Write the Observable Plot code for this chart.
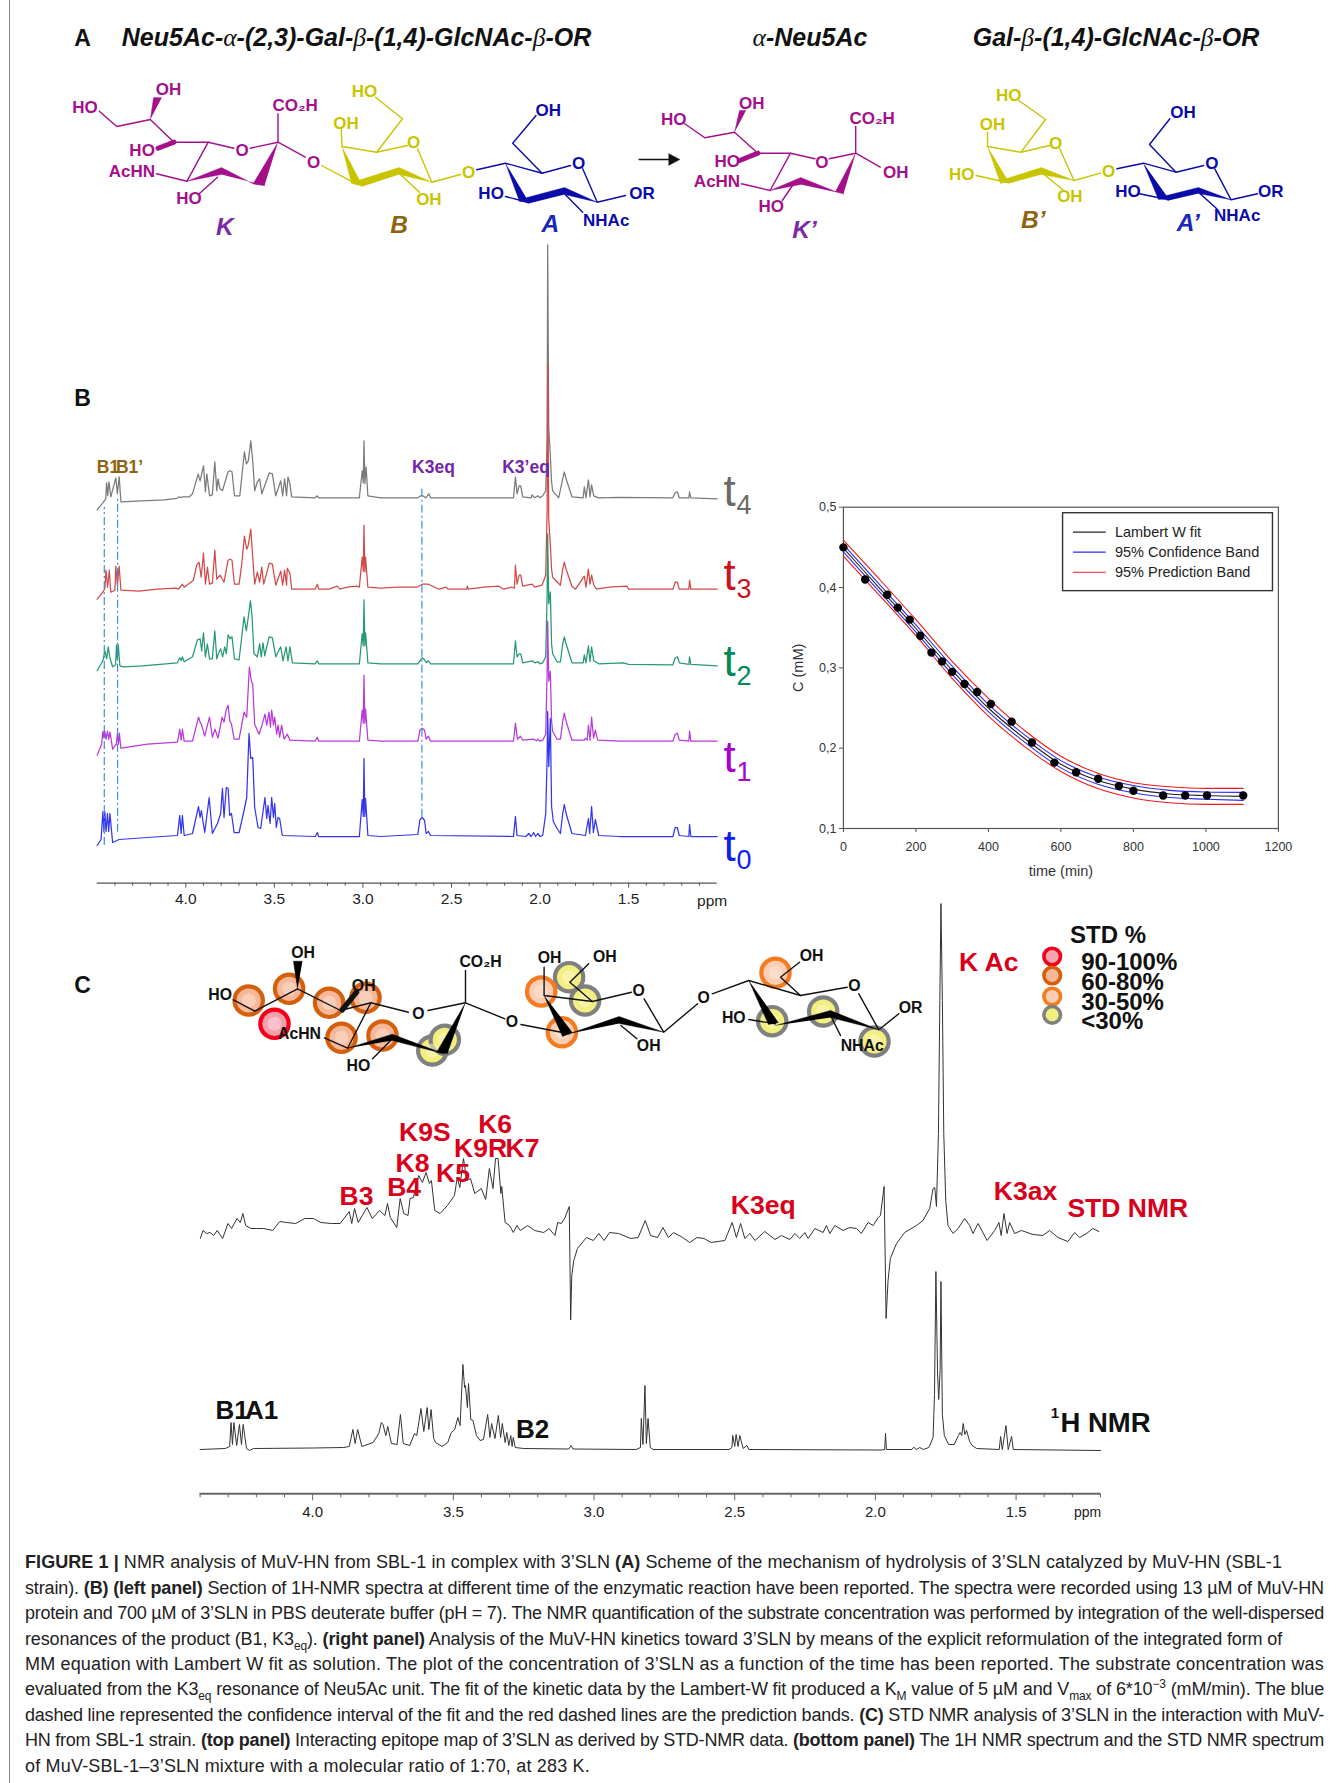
<!DOCTYPE html>
<html><head><meta charset="utf-8">
<script src="https://cdn.jsdelivr.net/npm/d3@7"></script>
<script src="https://cdn.jsdelivr.net/npm/@observablehq/plot@0.6"></script>
<style>
html,body{margin:0;padding:0;background:#fff}
#page{position:relative;width:1342px;height:1783px;overflow:hidden;font-family:"Liberation Sans",Arial,sans-serif;color:#1a1a1a}
#page>div.p{position:absolute}
#page svg{overflow:visible;background:transparent;display:block}
.ttl{position:absolute;white-space:nowrap;font:italic bold 25px "Liberation Sans",sans-serif;color:#111;transform:translateX(-50%);line-height:28px}
.ttl span{font:italic normal 25.5px "Liberation Serif",serif}
.cap{position:absolute;left:25px;font-size:18px;line-height:25.4px;height:25.4px;white-space:nowrap;color:#222}
.cap sub,.cap sup{font-size:12px;line-height:0}
#edge{position:absolute;left:9px;top:0;width:1px;height:1783px;background:#8a8a8a}
</style></head><body><div id="page"><div id="edge"></div></div>
<script>
// ---------- Panel B: 1H spectra over reaction time, [ppm, intensity] ----------
const t4Trace=[[4.5,-12],[4.468,-5],[4.452,-1],[4.447,15],[4.441,2],[4.434,16],[4.423,1],[4.395,20],[4.386,4],[4.376,21],[4.366,-4],[4.25,-3],[4.12,-2],[4.05,-.5],[4.037,1],[4.028,0],[4.019,1],[3.98,1],[3.962,4],[3.943,16],[3.93,24],[3.919,17],[3.9,32],[3.889,6],[3.881,24],[3.866,2],[3.85,3],[3.836,36],[3.825,7],[3.818,19],[3.807,9],[3.793,7],[3.761,26],[3.75,27],[3.739,26],[3.725,2],[3.695,2],[3.669,46],[3.658,34],[3.647,37],[3.633,57],[3.622,37],[3.611,7],[3.596,16],[3.583,19],[3.571,4],[3.528,25],[3.511,24],[3.492,2],[3.464,17],[3.453,2],[3.442,19],[3.431,2],[3.423,21],[3.412,14],[3.402,1],[3.27,0],[3.257,2],[3.25,0],[3.02,0],[3.004,27],[2.998,15],[2.994,57],[2.989,14],[2.982,31],[2.972,2],[2.9,0],[2.69,0],[2.674,2],[2.662,2],[2.645,0],[2.628,4],[2.618,0],[2.15,0],[2.139,21],[2.13,4],[2.118,12],[2.109,12],[2.098,1],[2.05,0],[2.045,3],[2.03,0],[2.013,2],[2.0,0],[1.985,2],[1.968,7],[1.96,60],[1.957,253],[1.951,70],[1.942,42],[1.935,16],[1.929,7],[1.895,0],[1.872,19],[1.863,26],[1.853,19],[1.82,1],[1.757,0],[1.75,11],[1.741,0],[1.727,18],[1.718,1],[1.709,13],[1.697,2],[1.669,0],[1.55,.5],[1.25,0],[1.237,5],[1.225,6],[1.214,0],[1.16,0],[1.156,6],[1.149,0],[1.0,-1]];
const t3Trace=[[4.5,-10],[4.468,-3],[4.456,1],[4.451,19],[4.441,2],[4.432,19],[4.423,-3],[4.4,-1],[4.395,23],[4.386,4],[4.376,23],[4.366,-1],[4.264,-2],[4.16,0],[4.056,1],[4.04,0],[4.019,5],[4.009,2],[3.957,9],[3.938,24],[3.925,27],[3.913,12],[3.9,36],[3.889,5],[3.878,22],[3.866,5],[3.85,6],[3.836,39],[3.825,10],[3.806,14],[3.784,7],[3.761,29],[3.75,30],[3.739,29],[3.725,5],[3.699,5],[3.684,25],[3.669,53],[3.656,40],[3.647,44],[3.633,60],[3.622,32],[3.611,5],[3.596,17],[3.583,7],[3.571,22],[3.56,5],[3.528,26],[3.511,25],[3.492,4],[3.464,18],[3.453,4],[3.442,19],[3.431,4],[3.427,21],[3.412,16],[3.402,0],[3.27,0],[3.257,5],[3.25,0],[3.19,0],[3.145,3],[3.13,0],[3.088,2],[3.032,3],[3.02,2],[3.004,32],[2.998,18],[2.994,64],[2.989,17],[2.985,32],[2.972,2],[2.9,1],[2.806,2],[2.693,2],[2.665,5],[2.63,5],[2.57,0],[2.53,2],[2.52,0],[2.415,0],[2.41,3],[2.405,0],[2.318,2],[2.233,3],[2.205,0],[2.158,2],[2.145,1],[2.139,24],[2.13,5],[2.118,14],[2.109,14],[2.098,3],[2.045,5],[2.03,2],[1.989,4],[1.968,14],[1.96,80],[1.957,225],[1.951,70],[1.942,45],[1.935,20],[1.929,12],[1.885,4],[1.872,20],[1.863,27],[1.853,20],[1.82,3],[1.8,0],[1.75,13],[1.741,2],[1.727,20],[1.718,5],[1.709,14],[1.697,4],[1.68,0],[1.613,2],[1.509,3],[1.5,0],[1.25,0],[1.237,7],[1.225,7],[1.214,0],[1.16,0],[1.156,9],[1.149,0],[1.0,0]];
const t2Trace=[[4.5,-7],[4.468,3],[4.457,13],[4.446,5],[4.438,17],[4.427,5],[4.413,-3],[4.396,-1],[4.391,19],[4.386,5],[4.381,19],[4.372,-2],[4.348,-3],[4.245,-2],[4.047,1],[4.034,6],[4.026,3],[4.019,7],[4.009,2],[3.962,7],[3.934,24],[3.919,25],[3.91,13],[3.9,31],[3.889,7],[3.878,20],[3.866,5],[3.85,5],[3.836,33],[3.825,5],[3.816,10],[3.803,15],[3.792,7],[3.78,17],[3.771,10],[3.761,29],[3.75,25],[3.739,27],[3.725,5],[3.699,4],[3.671,47],[3.658,33],[3.647,47],[3.635,63],[3.626,48],[3.615,10],[3.596,7],[3.583,20],[3.574,7],[3.564,21],[3.554,8],[3.53,27],[3.511,26],[3.492,7],[3.464,17],[3.451,3],[3.434,17],[3.423,3],[3.412,17],[3.398,1],[3.27,0],[3.257,3],[3.25,0],[3.02,0],[3.004,30],[2.998,18],[2.994,64],[2.989,18],[2.985,31],[2.972,1],[2.9,0],[2.69,0],[2.678,3],[2.665,6],[2.652,4],[2.643,1],[2.63,3],[2.618,0],[2.15,0],[2.139,23],[2.13,7],[2.118,10],[2.109,10],[2.098,1],[2.045,3],[2.03,1],[2.013,2],[2.0,0],[1.985,1],[1.968,7],[1.96,70],[1.957,130],[1.951,60],[1.942,72],[1.935,20],[1.929,10],[1.904,2],[1.885,2],[1.872,20],[1.863,27],[1.853,20],[1.82,1],[1.757,1],[1.75,9],[1.741,1],[1.727,18],[1.718,2],[1.709,17],[1.697,3],[1.669,0],[1.53,1],[1.5,-.5],[1.25,-1],[1.237,6],[1.225,7],[1.214,1],[1.16,-.5],[1.156,7],[1.149,-.5],[1.0,-2]];
const t1Trace=[[4.5,-14],[4.475,-3],[4.468,10],[4.462,3],[4.457,10],[4.45,2],[4.442,10],[4.435,2],[4.428,9],[4.413,-8],[4.392,-3],[4.386,8],[4.38,-3],[4.375,8],[4.366,-7],[4.216,-3],[4.047,-1],[4.034,12],[4.026,1],[4.019,12],[4.009,0],[3.962,0],[3.928,24],[3.919,19],[3.912,17],[3.893,5],[3.866,24],[3.85,4],[3.835,12],[3.818,3],[3.795,24],[3.784,19],[3.771,32],[3.761,36],[3.752,21],[3.742,17],[3.727,2],[3.699,2],[3.671,29],[3.656,24],[3.641,74],[3.631,61],[3.622,57],[3.611,17],[3.586,7],[3.568,17],[3.553,27],[3.543,16],[3.53,29],[3.522,14],[3.515,31],[3.505,16],[3.498,24],[3.487,7],[3.479,16],[3.47,4],[3.459,16],[3.445,2],[3.427,7],[3.412,1],[3.27,0],[3.257,4],[3.25,0],[3.02,0],[3.004,31],[2.998,18],[2.994,66],[2.989,18],[2.985,32],[2.972,1],[2.9,0],[2.69,0],[2.678,11],[2.665,13],[2.652,11],[2.643,2],[2.63,5],[2.618,0],[2.15,0],[2.139,18],[2.128,2],[2.111,5],[2.098,1],[2.036,2],[2.02,.5],[2.013,2],[2.0,0],[1.985,1],[1.968,7],[1.96,70],[1.957,120],[1.951,60],[1.942,70],[1.935,20],[1.929,10],[1.904,2],[1.885,2],[1.872,20],[1.863,28],[1.853,20],[1.82,1],[1.75,1],[1.744,3],[1.734,1],[1.727,16],[1.718,1],[1.709,24],[1.698,3],[1.688,11],[1.675,1],[1.55,0],[1.25,0],[1.237,7],[1.225,8],[1.214,1],[1.16,0],[1.156,10],[1.149,0],[1.0,0]];
const t0Trace=[[4.5,-9],[4.478,-3],[4.468,25],[4.462,5],[4.457,25],[4.45,5],[4.442,23],[4.435,5],[4.428,23],[4.413,-6],[4.376,-3],[4.216,-1],[4.047,1],[4.034,21],[4.026,3],[4.019,21],[4.009,1],[3.962,3],[3.928,30],[3.919,19],[3.912,26],[3.893,4],[3.868,39],[3.85,3],[3.821,13],[3.803,23],[3.793,48],[3.784,19],[3.771,49],[3.761,48],[3.752,21],[3.742,23],[3.727,4],[3.699,4],[3.671,26],[3.656,39],[3.643,103],[3.633,78],[3.622,79],[3.611,29],[3.592,9],[3.577,8],[3.567,21],[3.553,39],[3.543,18],[3.536,31],[3.524,13],[3.515,39],[3.505,19],[3.498,33],[3.489,9],[3.479,19],[3.47,18],[3.455,1],[3.27,0],[3.257,4],[3.25,0],[3.02,0],[3.004,37],[2.998,20],[2.994,78],[2.989,20],[2.985,38],[2.972,1],[2.9,0],[2.69,2],[2.678,17],[2.665,19],[2.652,16],[2.643,3],[2.63,5],[2.618,1],[2.15,0],[2.139,20],[2.13,1],[2.08,0],[2.064,3],[2.05,0],[2.036,4],[2.025,0],[2.013,3],[2.0,0],[1.985,1],[1.968,23],[1.96,80],[1.957,125],[1.951,70],[1.942,118],[1.935,30],[1.925,15],[1.904,8],[1.885,3],[1.872,23],[1.863,32],[1.853,23],[1.82,3],[1.744,1],[1.727,18],[1.72,3],[1.709,30],[1.699,4],[1.688,17],[1.669,1],[1.55,0],[1.25,0],[1.237,9],[1.225,9],[1.214,1],[1.16,0],[1.156,12],[1.149,0],[1.0,0]];
const traceNames=["t0","t1","t2","t3","t4"];
const traceOffsets=[46.7,142,219.4,294,385.4];
const traceColors=["#3535f0","#b93ad8","#27996f","#d04a4a","#7a7a7a"];
const tLabelColors=["#0f1ff0","#a800cf","#008a5a","#c8141e","#6a6a6a"];
const markerPpm=[4.46,4.385,2.667];
const markerFrom=[37.7,51,66];
const markerTo=[376,385.7,396];
const ppmMajorB=[4.0,3.5,3.0,2.5,2.0,1.5];
const ppmMinorB=[4.4,4.3,4.2,4.1,3.9,3.8,3.7,3.6,3.4,3.3,3.2,3.1,2.9,2.8,2.7,2.6,2.4,2.3,2.2,2.1,1.9,1.8,1.7,1.6,1.4,1.3,1.2,1.1];

// ---------- Panel B right: substrate concentration vs time ----------
const timePts=[0,60,121,150,183,212,243,272,300,334,369,407,464,520,582,642,703,760,800,882,943,1003,1103];
const concPts=[.45,.41,.391,.375,.36,.34,.319,.308,.295,.28,.27,.255,.233,.207,.182,.17,.162,.153,.147,.141,.141,.141,.141];
const fitTime=[0,100,200,300,400,500,600,700,800,900,1000,1103];
const fitConc=[.449,.399,.349,.297,.25,.212,.18,.16,.149,.143,.141,.14];
const confHi=[.4535,.4035,.3535,.302,.2545,.2165,.1845,.1645,.1535,.1475,.1455,.145];
const confLo=[.4445,.3945,.3445,.292,.2455,.2075,.1755,.1555,.1445,.1385,.1365,.135];
const predHi=[.459,.41,.36,.308,.262,.222,.19,.169,.157,.152,.15,.15];
const predLo=[.439,.39,.34,.287,.24,.202,.171,.15,.138,.132,.13,.13];
const timeTicks=[0,200,400,600,800,1000,1200];
const concTicks=[.1,.2,.3,.4,.5];
const legendNames=["Lambert W fit","95% Confidence Band","95% Prediction Band"];
const legendColors=["#222","#2a2af0","#f01818"];
const legendConc=[.4689,.444,.419];

// ---------- Panel C: STD NMR and 1H NMR spectra, [ppm, intensity] ----------
const stdTrace=[[4.399,-13],[4.39,-5],[4.377,-8],[4.364,-7],[4.352,-10],[4.339,-5],[4.32,-13],[4.301,2],[4.288,-3],[4.269,7],[4.257,3],[4.248,12],[4.238,0],[4.219,-3],[4.2,-3],[4.174,-3],[4.142,-5],[4.117,4],[4.092,3],[4.06,2],[4.028,7],[3.997,7],[3.971,3],[3.933,2],[3.902,2],[3.87,14],[3.861,2],[3.851,17],[3.838,3],[3.807,18],[3.788,7],[3.762,15],[3.743,10],[3.734,22],[3.724,8],[3.701,-2],[3.689,27],[3.676,12],[3.661,10],[3.654,27],[3.642,28],[3.623,50],[3.61,43],[3.597,53],[3.585,42],[3.578,45],[3.566,15],[3.547,12],[3.521,20],[3.496,30],[3.486,48],[3.477,38],[3.464,67],[3.452,45],[3.439,47],[3.424,32],[3.401,37],[3.385,26],[3.372,57],[3.359,37],[3.35,67],[3.341,67],[3.331,32],[3.328,39],[3.316,3],[3.3,0],[3.287,-7],[3.274,0],[3.262,-5],[3.236,0],[3.211,-5],[3.179,-7],[3.16,-3],[3.139,-10],[3.129,3],[3.116,2],[3.103,8],[3.088,19],[3.083,-94.5],[3.079,-50],[3.072,-35],[3.059,-23],[3.027,-12],[3.002,-15],[2.983,-8],[2.964,-15],[2.945,-7],[2.913,-8],[2.869,-13],[2.843,-12],[2.818,5],[2.799,-10],[2.774,-12],[2.755,-2],[2.736,-12],[2.717,-7],[2.685,-12],[2.66,-17],[2.634,-12],[2.609,-13],[2.584,-17],[2.535,-15],[2.509,3],[2.494,-12],[2.479,2],[2.464,-13],[2.446,-8],[2.428,-15],[2.393,-6],[2.357,-14],[2.334,-10],[2.304,-14],[2.286,-8],[2.269,-13],[2.251,-7],[2.239,-13],[2.215,-3],[2.186,-7],[2.174,0],[2.162,-8],[2.144,0],[2.115,-5],[2.091,-2],[2.067,-3],[2.05,-8],[2.026,3],[2.008,0],[1.99,8],[1.982,10],[1.969,39],[1.962,-93],[1.955,-55],[1.947,-33],[1.925,-18],[1.896,-7],[1.854,0],[1.831,5],[1.807,17],[1.795,37],[1.789,38],[1.783,19],[1.776,92],[1.771,225],[1.767,322],[1.762,225],[1.757,92],[1.75,25],[1.742,0],[1.724,-8],[1.706,-3],[1.683,7],[1.665,0],[1.653,-8],[1.635,2],[1.603,-15],[1.576,-5],[1.561,3],[1.553,-10],[1.543,12],[1.532,-8],[1.523,3],[1.505,-8],[1.481,-5],[1.44,-9],[1.405,-10],[1.381,-5],[1.351,-12],[1.316,-16],[1.292,-7],[1.274,-12],[1.245,-7],[1.227,-3],[1.206,-6]];
const protonTrace=[[4.4,0],[4.31,1],[4.295,3],[4.29,27],[4.285,5],[4.28,27],[4.27,4],[4.26,25],[4.253,5],[4.247,25],[4.235,1],[4.225,-1],[4.21,1],[4.0,1.5],[3.89,2],[3.87,3],[3.857,20],[3.849,6],[3.84,20],[3.825,3],[3.785,7],[3.765,16],[3.756,27],[3.75,25],[3.74,14],[3.733,23],[3.72,6],[3.7,5],[3.688,35],[3.678,6],[3.655,4],[3.638,16],[3.63,14],[3.615,41],[3.605,18],[3.593,42],[3.587,20],[3.579,40],[3.57,11],[3.563,7],[3.54,3],[3.52,7],[3.507,17],[3.495,20],[3.484,32],[3.476,24],[3.466,85],[3.46,62],[3.457,64],[3.45,42],[3.446,66],[3.438,30],[3.43,29],[3.418,14],[3.405,9],[3.393,10],[3.378,35],[3.37,12],[3.364,26],[3.352,11],[3.34,34],[3.332,12],[3.326,26],[3.316,7],[3.31,17],[3.303,4],[3.296,14],[3.291,3],[3.287,12],[3.28,2],[3.25,1],[3.09,.5],[3.081,4],[3.075,.5],[2.85,0],[2.835,2],[2.832,31],[2.826,5],[2.819,64],[2.814,6],[2.808,31],[2.8,2],[2.79,0],[2.52,0],[2.51,2],[2.507,14],[2.5,3],[2.495,15],[2.488,3],[2.482,14],[2.47,1],[2.457,4],[2.45,0],[1.98,-.5],[1.967,0],[1.964,16],[1.961,0],[1.87,0],[1.864,2.3],[1.855,0],[1.842,2],[1.83,0],[1.81,2],[1.795,12],[1.79,55],[1.785,178],[1.779,75],[1.775,50],[1.77,80],[1.767,168],[1.762,35],[1.755,14],[1.74,5],[1.72,5],[1.705,14],[1.699,17],[1.693,14],[1.688,26],[1.682,15],[1.676,19],[1.665,8],[1.656,4],[1.64,1],[1.56,0],[1.555,13],[1.549,0],[1.536,24],[1.528,0],[1.516,13],[1.51,0],[1.2,-1]];
const stdOffset=268.3, protonOffset=44.3;
const ppmMajorC=[4.0,3.5,3.0,2.5,2.0,1.5];
const ppmMinorC=[4.4,4.3,4.2,4.1,3.9,3.8,3.7,3.6,3.4,3.3,3.2,3.1,2.9,2.8,2.7,2.6,2.4,2.3,2.2,2.1,1.9,1.8,1.7,1.6,1.4,1.3,1.2];

// ---------- Structures: bonds, wedges, labels ----------
const purple="#a3108a", yellow="#c9c400", navy="#0b0ba8";
const kBonds=[[[98.8,110.7],[116.3,126],[149.8,119],[173.4,141.7],[207.7,141.7],[233.4,147.7]],[[249.7,147.7],[277.5,141.7],[277.5,113.3]],[[277.5,141.7],[304.8,156.7]],[[207.7,141.7],[186.5,180.7]],[[156,173.3],[186.5,180.7]],[[217,176.7],[198.7,193.3]],
 [[684.2,123.3],[704.3,137.3],[734,131.7],[757.3,152.7],[790,152.7],[814.4,158.3]],[[828.7,158.3],[855.2,152.7],[855.2,126]],[[855.2,152.7],[879.7,166.7]],[[790,152.7],[769.6,190]],[[741,183.3],[769.6,190]],[[792,185],[781.8,200]]];
const kWedges=[[[149.8,119],[153,97],[161.2,97.3]],[[277.5,141.7],[252.6,183.3],[264,185]],[[264,185],[252.6,183.3],[221,167],[186.5,180.7],[221,174]],
 [[734,131.7],[739,110],[745.5,110]],[[855.2,152.7],[835,191],[843,193.3]],[[843,193.3],[835,191],[800.2,177],[769.6,190],[800.2,184]]];
const kHatches=[[[173.4,141.7],[156,148.3]],[[757.3,152.7],[739,160]]];
const bBonds=[[[375,96.7],[402,118.3],[376.2,151.7]],[[340.7,128.3],[341.5,146],[376.2,151.7],[407,145]],[[321.2,165],[355.6,183.3]],[[417,148.3],[431.3,181.7],[460,174]],[[398.6,172.7],[419,191.7]],
 [[1018.4,100],[1045,119],[1020.5,151.7]],[[987,131.7],[987,146],[1020.5,151.7],[1049,145]],[[975.6,175],[1006,181.7]],[[1059.2,148.3],[1073.5,180],[1100,172.7]],[[1040.9,171.7],[1063.3,190]]];
const bWedges=[[[341.5,146],[351,183],[362,185]],[[362,186],[351,182],[398.6,167],[431.3,181.7],[398.6,174]],
 [[987,146],[1000,183],[1008,181]],[[1008,183],[1000,180],[1040.9,167],[1073.5,180],[1040.9,174]]];
const aBonds=[[[476.3,169.3],[505,162.7],[541.6,172.7],[570,165]],[[541.6,172.7],[512.2,142.7],[535.5,115]],[[582.2,168.3],[596.7,201.7],[625,195]],[[564,193.3],[582.2,211.7]],[[505,196],[527,201.7]],
 [[1116.4,168.3],[1142.9,162.7],[1175.5,171.7],[1203.3,165]],[[1175.5,171.7],[1149,144],[1169.4,118.3]],[[1214.3,168.3],[1230.6,199.3],[1257,193.3]],[[1198,191.7],[1216.3,208.3]],[[1139,193.3],[1163.3,198.3]]];
const aWedges=[[[505,162.7],[519,201],[528,201]],[[528,203],[519,199],[564,187],[596.7,201.7],[564,194]],
 [[1142.9,162.7],[1158,199],[1168,198]],[[1168,200],[1158,197],[1198,187],[1230.6,199.3],[1198,193]]];
const arrowLine=[[[638.6,159],[668,159]]];
const arrowHead=[[[668,153],[679.4,159],[668,165]]];
const kLabels=[["HO",84.5,106.7],["OH",168,89],["CO₂H",294.6,105],["HO",141.6,150],["O",241.6,150],["AcHN",131.4,171],["HO",188.5,198],["O",313,161.7],
 ["HO",673.2,119],["OH",751.2,102.7],["CO₂H",871.6,117.7],["HO",726.7,161],["O",821.4,161.7],["OH",895.2,171.7],["AcHN",716.5,181],["HO",770.8,206]];
const bLabels=[["HO",364,91],["OH",345.6,123.3],["O",413,142.3],["OH",428.4,199.3],["O",468,171.7],["HO",1008.2,95],["OH",992,124.3],["O",1055.2,143.3],["HO",961.3,174],["OH",1069.4,196],["O",1108.2,170.7]];
const aLabels=[["OH",547.8,110],["O",578.2,162.7],["HO",490.6,192.7],["OR",641.6,192.7],["NHAc",605.7,220],["OH",1182.5,112.3],["O",1211.4,162.7],["HO",1127.4,190.7],["OR",1270.2,190.7],["NHAc",1236.7,215]];
const residueK=[["K",224.4,226.7],["K’",804,230]];
const residueB=[["B",398.6,225],["B’",1032.7,220]];
const residueA=[["A",549.8,223.3],["A’",1187.8,223]];
const panelLetters=[["A",82,38],["B",82,398],["C",82,985]];
// epitope map
const ringDark=[[248.2,1000],[288.6,988.3],[328.6,1002.3],[365,997.3],[341,1037.3],[382,1035]];
const ringRed=[[274,1023.3]];
const ringGray=[[431.8,1050],[444.3,1039.3],[568.6,976.7],[584.6,1000],[771.7,1020.7],[822.7,1011],[874,1041]];
const ringOrange=[[540.7,991],[561.4,1031.7],[775,972.3]];
const keyRings=[[1051.7,956,"#f4001a","#f5a5b0"],[1051.7,975,"#d4600e","#f7b89a"],[1051.7,996,"#f47b20","#fbcdb2"],[1051.7,1014.3,"#808080","#f3ee80"]];
const keyText=[["90-100%",1080.7,962.3],["60-80%",1080.7,981.7],["30-50%",1080.7,1001.7],["<30%",1080.7,1021]];
const mapBonds=[[[232.9,999.3],[254.3,1010.7],[297.1,988.3],[340,1010],[370.4,1002.3],[407.9,1011.7]],[[427.5,1010],[465,1002.3],[465,970]],[[465,1002.3],[504.3,1018.3]],[[370.4,1002.3],[347.1,1047.7]],[[323.9,1037.3],[347.1,1047.7]],[[391.8,1038.3],[372.1,1058.3]],[[520.4,1024],[568.6,1033.3]],[[543.6,966.7],[543.6,995],[591.8,1001],[631,991.7]],[[591.8,1001],[569.3,981.7],[588.2,963.3]],[[643.6,998.3],[663.2,1031.7],[697.1,1003.3]],[[620.4,1025],[636.4,1038.3]],
 [[711.7,993.3],[748.3,980],[800,995],[846.7,986.7]],[[800,995],[780,976.7],[799,961.7]],[[858.3,993.3],[878.3,1029.3],[898.3,1013.3]],[[830,1015],[840,1035]],[[748.3,1019],[775,1023.3]]];
const mapWedges=[[[297.1,988.3],[292.9,960.7],[301.9,960.7]],[[465,1002.3],[436,1052],[447,1053]],[[347.1,1047.7],[391.8,1033.7],[443.6,1053.3],[391.8,1040]],[[543.6,995],[562,1036],[572,1032]],[[568.6,1033.3],[618.6,1016],[663.2,1031.7],[618.6,1023]],[[748.3,980],[768,1024],[778,1022]],[[775,1025],[830,1010],[878.3,1029.3],[830,1017]]];
const mapHatches=[[[341.8,1009.3],[356,991.7]]];
const mapLabels=[["HO",219.6,994.3],["OH",302.5,952.3],["OH",363.2,985],["AcHN",299,1033.3],["HO",357.9,1065],["CO₂H",480,961.7],["O",417.9,1013.3],["O",511.4,1021.7],["OH",549,957.7],["OH",604.3,956.7],["O",638.2,990],["O",703.2,997.7],["OH",648.2,1045.7],["HO",733.3,1017.3],["OH",811,955.7],["O",854,985],["OR",910,1007.3],["NHAc",861.7,1045]];
const redLabels=[["B3",356,1196],["K9S",424.3,1131.7],["K8",412,1163.3],["B4",403.6,1186.7],["K5",452.5,1173.3],["K6",494.6,1124],["K9R",480,1148.3],["K7",522,1147.7],["K3eq",762.7,1205],["K3ax",1025,1191],["STD NMR",1127.3,1208.3],["K Ac",988.3,961.7]];
const blackLabels=[["B1",231.5,1410],["A1",261,1410],["B2",532,1429]];
const spectraLabels=[["B1",107.5,467.3,"#8f6410"],["B1’",129,467.3,"#8f6410"],["K3eq",433,467.3,"#7326a8"],["K3’eq",525.5,467.3,"#7326a8"]];
const tMain=[["t",729,860],["t",729,771.5],["t",729,675],["t",729,589],["t",729,505]];
const tSub=[["0",743.5,868],["1",743.5,780.5],["2",743.5,684],["3",743.5,597.5],["4",743.5,513]];

// ---------- helpers ----------
const SANS="Liberation Sans";
const page=document.getElementById("page");
function place(svg,left,top){const d=document.createElement("div");d.className="p";d.style.left=left+"px";d.style.top=top+"px";d.append(svg);page.append(d);}
const paths=polys=>polys.flatMap((p,i)=>p.map(([x,y])=>({x,y,i})));
const lines=(polys,stroke,sw=1.3,extra={})=>Plot.line(paths(polys),{x:"x",y:"y",z:"i",stroke,strokeWidth:sw,...extra});
const wedges=(polys,fill)=>Plot.line(paths(polys),{x:"x",y:"y",z:"i",fill,stroke:fill,strokeWidth:.4});
const texts=(rows,fill,size,extra={})=>Plot.text(rows,{x:d=>d[1],y:d=>d[2],text:d=>d[0],fill,fontSize:size,fontFamily:SANS,fontWeight:"bold",...extra});

// ---------- Panel B left spectra ----------
const allTraces=[t0Trace,t1Trace,t2Trace,t3Trace,t4Trace];
place(Plot.plot({
  width:1342,height:675,marginLeft:96.7,marginRight:625.3,marginTop:0,marginBottom:37.3,
  x:{domain:[4.5,1.0],axis:null},y:{domain:[0,637.7],axis:null},
  marks:[
    ...[4,3,2,1,0].map(i=>Plot.line(allTraces[i],{x:d=>d[0],y:d=>d[1]+traceOffsets[i],stroke:traceColors[i],strokeWidth:1.25})),
    Plot.ruleX(markerPpm.map((p,i)=>({p,a:markerFrom[i],b:markerTo[i]})),{x:"p",y1:"a",y2:"b",stroke:"#3f8bdc",strokeWidth:1.2,strokeDasharray:"8,3,2,3"}),
    Plot.ruleY([0],{x1:4.5,x2:1.0,stroke:"#555",strokeWidth:1.2}),
    Plot.axisX({anchor:"bottom",ticks:ppmMinorB,tickSize:3,tickFormat:()=>"",label:null,stroke:"#555"}),
    Plot.axisX({anchor:"bottom",ticks:ppmMajorB,tickSize:5,tickPadding:5,tickFormat:d3.format(".1f"),label:null,stroke:"#555",fill:"#222",fontSize:15.5,fontFamily:SANS})
  ]
}),0,245);

// ---------- Panel B right kinetics ----------
const curve=(ys,stroke,sw=1)=>Plot.line(fitTime.map((t,i)=>[t,ys[i]]),{x:d=>d[0],y:d=>d[1],stroke,strokeWidth:sw,curve:"monotone-x"});
place(Plot.plot({
  width:560,height:410,marginLeft:82.9,marginRight:42.1,marginTop:26.7,marginBottom:62,
  x:{domain:[0,1200],axis:null},y:{domain:[.1,.5],axis:null},
  marks:[
    Plot.frame({stroke:"#555",strokeWidth:1.2}),
    curve(predHi,"#f01818",1.1),curve(predLo,"#f01818",1.1),
    curve(confHi,"#2a2af0",1.1),curve(confLo,"#2a2af0",1.1),
    curve(fitConc,"#222",1.1),
    Plot.dot(timePts.map((t,i)=>[t,concPts[i]]),{x:d=>d[0],y:d=>d[1],r:4.2,fill:"#000"}),
    Plot.axisX({anchor:"bottom",ticks:timeTicks,tickSize:4,tickPadding:10,tickFormat:d=>String(d),label:null,fontSize:12.5,fontFamily:SANS,stroke:"#555",fill:"#333"}),
    Plot.axisY({anchor:"left",ticks:concTicks,tickSize:4,tickPadding:3,tickFormat:d=>d.toFixed(1).replace(".",","),label:null,fontSize:12.5,fontFamily:SANS,stroke:"#555",fill:"#333"}),
    Plot.text(["time (min)"],{x:600,y:.1,dy:43,text:d=>d,fontSize:14.5,fontFamily:SANS,fill:"#333"}),
    Plot.text(["C (mM)"],{x:0,y:.3,dx:-45,rotate:-90,text:d=>d,fontSize:14.5,fontFamily:SANS,fill:"#333"}),
    Plot.rect([{}],{x1:606,x2:1185,y1:.3955,y2:.4925,fill:"#fff",stroke:"#333",strokeWidth:1.4}),
    Plot.ruleY(legendConc.map((c,i)=>({c,i})),{y:"c",x1:634.5,x2:725,stroke:d=>legendColors[d.i],strokeWidth:1.2}),
    Plot.text(legendNames,{x:749,y:(d,i)=>legendConc[i],text:d=>d,textAnchor:"start",fontSize:14.5,fontFamily:SANS,fill:"#222"})
  ]
}),760,480);

// ---------- Panel C spectra ----------
place(Plot.plot({
  width:1342,height:650,marginLeft:199.6,marginRight:242,marginTop:0,marginBottom:36.7,
  x:{domain:[4.4,1.2],axis:null},y:{domain:[0,613.3],axis:null},
  marks:[
    Plot.line(stdTrace,{x:d=>d[0],y:d=>d[1]+stdOffset,stroke:"#333",strokeWidth:1}),
    Plot.line(protonTrace,{x:d=>d[0],y:d=>d[1]+protonOffset,stroke:"#333",strokeWidth:1}),
    Plot.ruleY([0],{x1:4.4,x2:1.2,stroke:"#666",strokeWidth:2}),
    Plot.axisX({anchor:"bottom",ticks:ppmMinorC,tickSize:4,tickFormat:()=>"",label:null,stroke:"#666"}),
    Plot.axisX({anchor:"bottom",ticks:ppmMajorC,tickSize:7,tickPadding:6,tickFormat:d3.format(".1f"),label:null,stroke:"#666",fill:"#222",fontSize:15,fontFamily:SANS})
  ]
}),0,880);

// ---------- Overlay: structures, labels ----------
const layer=(rings,ring,fill,inner)=>[
  Plot.dot(rings,{x:d=>d[0],y:d=>d[1],r:14.2,stroke:ring,strokeWidth:4.2,fill}),
  Plot.dot(rings,{x:d=>d[0],y:d=>d[1],r:7,fill:inner,fillOpacity:.55})];
place(Plot.plot({
  width:1342,height:1783,margin:0,
  x:{domain:[0,1342],range:[0,1342],axis:null},y:{domain:[0,1783],range:[0,1783],axis:null},
  marks:[
    // panel A
    lines(kBonds,purple,1.4),wedges(kWedges,purple),lines(kHatches,purple,5,{strokeDasharray:"1,2.2"}),
    lines(bBonds,yellow,1.4),wedges(bWedges,yellow),
    lines(aBonds,navy,1.4),wedges(aWedges,navy),
    lines(arrowLine,"#111",1.3),wedges(arrowHead,"#111"),
    texts(kLabels,purple,17),texts(bLabels,yellow,17),texts(aLabels,navy,17),
    texts(residueK,"#7a2aa6",24.5,{fontStyle:"italic"}),texts(residueB,"#8f6410",24.5,{fontStyle:"italic"}),texts(residueA,"#1a27b8",24.5,{fontStyle:"italic"}),
    texts(panelLetters,"#111",23),
    // panel B labels
    texts(spectraLabels,d=>d[3],17.5),
    texts(tMain.map((d,i)=>[...d,tLabelColors[i]]),d=>d[3],44,{fontWeight:"normal",lineAnchor:"bottom"}),
    texts(tSub.map((d,i)=>[...d,tLabelColors[i]]),d=>d[3],27,{fontWeight:"normal",lineAnchor:"bottom"}),
    Plot.text(["ppm"],{x:711.7,y:900.7,text:d=>d,fontSize:15.5,fontFamily:SANS,fill:"#222"}),
    // panel C map
    ...layer(ringDark,"#d4600e","#f7b89a","#fde2d6"),
    ...layer(ringRed,"#f4001a","#f59fad","#fde0e4"),
    ...layer(ringGray,"#808080","#f3ee80","#fbf8c4"),
    ...layer(ringOrange,"#f47b20","#fbcdb2","#fde7da"),
    lines(mapBonds,"#111",1.4),wedges(mapWedges,"#000"),lines(mapHatches,"#111",5.5,{strokeDasharray:"1.2,2"}),
    texts(mapLabels,"#111",15.8),
    Plot.dot(keyRings,{x:d=>d[0],y:d=>d[1],r:8.3,stroke:d=>d[2],fill:d=>d[3],strokeWidth:3.6}),
    texts(keyText,"#111",24,{textAnchor:"start"}),
    texts([["STD %",1107.5,935]],"#111",24),
    texts(redLabels,"#d9001b",26.5),
    texts(blackLabels,"#111",26),
    texts([["H NMR",1105,1423]],"#111",27.5),
    texts([["1",1054.5,1413]],"#111",15),
    Plot.text(["ppm"],{x:1087,y:1511.7,text:d=>d,fontSize:14,fontFamily:SANS,fill:"#222"})
  ]
}),0,0);

// ---------- Panel A titles ----------
const titles=[
 [356.5,'Neu5Ac-<span>α</span>-(2,3)-Gal-<span>β</span>-(1,4)-GlcNAc-<span>β</span>-OR'],
 [810,'<span>α</span>-Neu5Ac'],
 [1116,'Gal-<span>β</span>-(1,4)-GlcNAc-<span>β</span>-OR']];
titles.forEach(([x,h])=>{const d=document.createElement("div");d.className="ttl";d.style.left=x+"px";d.style.top="23px";d.innerHTML=h;page.append(d);});

// ---------- Caption: [line width, html] ----------
const captionLines=[
 [1257,'<b>FIGURE 1 |</b> NMR analysis of MuV-HN from SBL-1 in complex with 3’SLN <b>(A)</b> Scheme of the mechanism of hydrolysis of 3’SLN catalyzed by MuV-HN (SBL-1'],
 [1299,'strain). <b>(B) (left panel)</b> Section of 1H-NMR spectra at different time of the enzymatic reaction have been reported. The spectra were recorded using 13 µM of MuV-HN'],
 [1299,'protein and 700 µM of 3’SLN in PBS deuterate buffer (pH = 7). The NMR quantification of the substrate concentration was performed by integration of the well-dispersed'],
 [1257,'resonances of the product (B1, K3<sub>eq</sub>). <b>(right panel)</b> Analysis of the MuV-HN kinetics toward 3’SLN by means of the explicit reformulation of the integrated form of'],
 [1299,'MM equation with Lambert W fit as solution. The plot of the concentration of 3’SLN as a function of the time has been reported. The substrate concentration was'],
 [1299,'evaluated from the K3<sub>eq</sub> resonance of Neu5Ac unit. The fit of the kinetic data by the Lambert-W fit produced a K<sub>M</sub> value of 5 µM and V<sub>max</sub> of 6*10<sup>−3</sup> (mM/min). The blue'],
 [1299,'dashed line represented the confidence interval of the fit and the red dashed lines are the prediction bands. <b>(C)</b> STD NMR analysis of 3’SLN in the interaction with MuV-'],
 [1299,'HN from SBL-1 strain. <b>(top panel)</b> Interacting epitope map of 3’SLN as derived by STD-NMR data. <b>(bottom panel)</b> The 1H NMR spectrum and the STD NMR spectrum'],
 [565,'of MuV-SBL-1–3’SLN mixture with a molecular ratio of 1:70, at 283 K.']];
captionLines.forEach(([w,h],i)=>{
  const d=document.createElement("div");d.className="cap";d.style.top=(1550.3+25.4*i)+"px";d.innerHTML=h;page.append(d);
  const natural=d.getBoundingClientRect().width;
  d.style.letterSpacing=((w-natural)/d.textContent.length).toFixed(3)+"px";
});
</script></body></html>
